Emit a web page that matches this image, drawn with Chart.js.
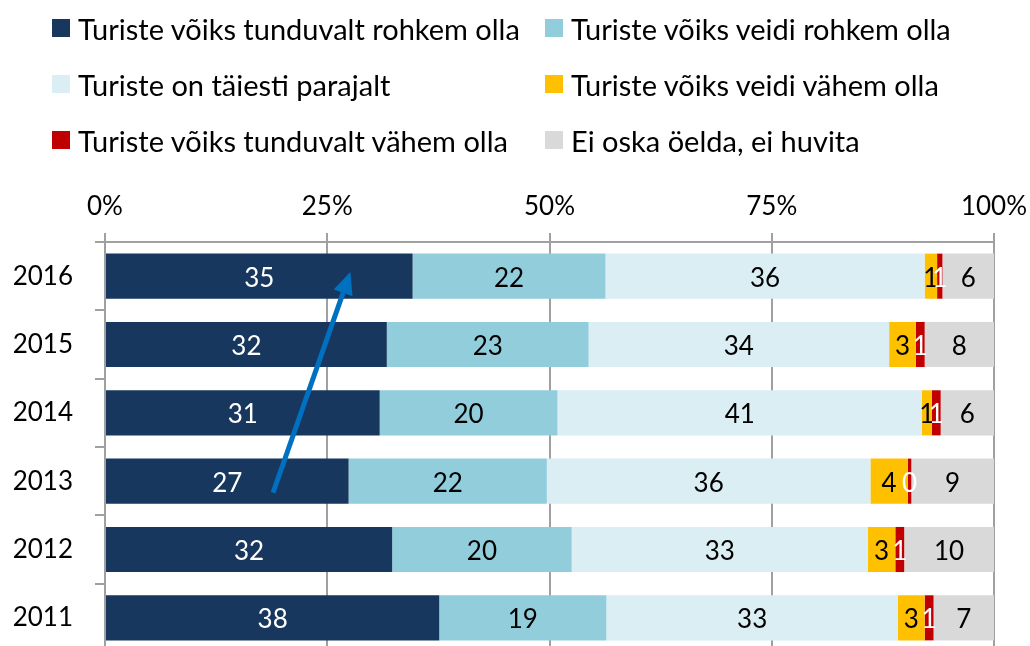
<!DOCTYPE html>
<html>
<head>
<meta charset="utf-8">
<script src="https://cdn.jsdelivr.net/npm/chart.js@4/dist/chart.umd.min.js"></script>
<style>
  html, body { margin: 0; padding: 0; background: #fff; overflow: hidden; }
  #wrap { position: relative; width: 1030px; height: 646px; overflow: hidden; }
  #chart { position: absolute; left: 0; top: 0; }
  #legend {
    position: absolute; left: 52px; top: 9px;
    display: grid; grid-template-columns: 493px 440px; grid-auto-rows: 56px;
    font-family: Lato, sans-serif; font-size: 29px; color: #000;
  }
  .item { display: flex; align-items: center; height: 38px; white-space: nowrap; }
  .box { width: 18px; height: 18px; margin-right: 8px; flex: none; }
</style>
</head>
<body>
<div id="wrap">
  <canvas id="chart" width="1030" height="660"></canvas>
  <div id="legend"></div>
</div>
<script>
// Years, top to bottom
const years = ['2016', '2015', '2014', '2013', '2012', '2011'];

// Shares in % (labels show the rounded value)
const muchMore = [34.6, 31.7, 30.9, 27.4, 32.3, 37.6];
const bitMore = [21.7, 22.7, 20.0, 22.3, 20.2, 18.8];
const justRight = [35.9, 33.8, 41.0, 36.4, 33.3, 32.8];
const bitLess = [1.4, 3.0, 1.1, 4.2, 3.1, 3.0];
const muchLess = [0.6, 1.0, 1.0, 0.4, 1.0, 1.0];
const dontKnow = [5.8, 7.8, 6.0, 9.3, 10.1, 6.8];

const seriesNames = [
  'Turiste võiks tunduvalt rohkem olla',
  'Turiste võiks veidi rohkem olla',
  'Turiste on täiesti parajalt',
  'Turiste võiks veidi vähem olla',
  'Turiste võiks tunduvalt vähem olla',
  'Ei oska öelda, ei huvita'
];
const seriesColors = ['#17375E', '#92CDDC', '#DAEEF3', '#FFC000', '#C00000', '#D9D9D9'];
const labelColors = ['#fff', '#000', '#000', '#000', '#fff', '#000'];

const xTicks = [0, 25, 50, 75, 100];

// Trend arrow: [x in %, y as category index]
const arrowFrom = [18.9, 3.17];
const arrowTo = [27.6, -0.06];

const FONT = '26px Lato, sans-serif';
const GRID = '#a0a0a0';

// Legend in two columns
const legendEl = document.getElementById('legend');
seriesNames.forEach((name, i) => {
  const item = document.createElement('div');
  item.className = 'item';
  item.innerHTML = '<span class="box" style="background:' + seriesColors[i] + '"></span>' + name;
  legendEl.appendChild(item);
});

const allSeries = [muchMore, bitMore, justRight, bitLess, muchLess, dontKnow];

// Value labels in the middle of each segment
const barLabels = {
  id: 'barLabels',
  afterDatasetsDraw(chart) {
    const ctx = chart.ctx;
    ctx.save();
    ctx.font = FONT;
    ctx.textAlign = 'center';
    ctx.textBaseline = 'middle';
    chart.data.datasets.forEach((ds, i) => {
      const meta = chart.getDatasetMeta(i);
      meta.data.forEach((bar, j) => {
        const p = bar.getProps(['x', 'y', 'base'], true);
        ctx.fillStyle = labelColors[i];
        ctx.fillText(String(Math.round(ds.data[j])), (p.x + p.base) / 2, p.y + 2);
      });
    });
    ctx.restore();
  }
};

// Blue arrow drawn on top
const trendArrow = {
  id: 'trendArrow',
  afterDraw(chart) {
    const xs = chart.scales.x, ys = chart.scales.y;
    const x1 = xs.getPixelForValue(arrowFrom[0]), y1 = ys.getPixelForValue(arrowFrom[1]);
    const x2 = xs.getPixelForValue(arrowTo[0]), y2 = ys.getPixelForValue(arrowTo[1]);
    const ang = Math.atan2(y2 - y1, x2 - x1);
    const headLen = 22, headW = 10;
    const bx = x2 - headLen * Math.cos(ang), by = y2 - headLen * Math.sin(ang);
    const ctx = chart.ctx;
    ctx.save();
    ctx.strokeStyle = '#0070C0';
    ctx.fillStyle = '#0070C0';
    ctx.lineWidth = 5;
    ctx.beginPath();
    ctx.moveTo(x1, y1);
    ctx.lineTo(bx, by);
    ctx.stroke();
    ctx.beginPath();
    ctx.moveTo(x2, y2);
    ctx.lineTo(bx + headW * Math.sin(ang), by - headW * Math.cos(ang));
    ctx.lineTo(bx - headW * Math.sin(ang), by + headW * Math.cos(ang));
    ctx.closePath();
    ctx.fill();
    ctx.restore();
  }
};

new Chart(document.getElementById('chart').getContext('2d'), {
  type: 'bar',
  data: {
    labels: years,
    datasets: allSeries.map((data, i) => ({
      label: seriesNames[i],
      data: data,
      backgroundColor: seriesColors[i],
      borderWidth: 0,
      barPercentage: 0.66,
      categoryPercentage: 1
    }))
  },
  options: {
    indexAxis: 'y',
    responsive: false,
    animation: false,
    layout: { padding: { top: 170, right: 36, bottom: 8, left: 0 } },
    scales: {
      x: {
        position: 'top',
        stacked: true,
        min: 0,
        max: 100,
        afterBuildTicks: scale => { scale.ticks = xTicks.map(v => ({ value: v })); },
        afterFit: scale => {
          scale.height = 72;
          // labels may spill past the plot edges, as in the original
          scale.paddingLeft = 0;
          scale.paddingRight = 0;
        },
        ticks: {
          color: '#000',
          font: { family: 'Lato, sans-serif', size: 26 },
          padding: 11,
          callback: v => v + '%'
        },
        grid: { color: GRID, lineWidth: 2, tickLength: 9 },
        border: { display: true, color: GRID, width: 2 }
      },
      y: {
        stacked: true,
        afterFit: scale => {
          scale.width = 105;
          scale.paddingTop = 0;
          scale.paddingBottom = 0;
        },
        ticks: {
          color: '#000',
          font: { family: 'Lato, sans-serif', size: 26 },
          padding: 22
        },
        grid: { drawOnChartArea: false, color: GRID, lineWidth: 2, tickLength: 10 },
        border: { display: true, color: GRID, width: 2 }
      }
    },
    plugins: {
      legend: { display: false },
      tooltip: { enabled: false }
    }
  },
  plugins: [barLabels, trendArrow]
});
</script>
</body>
</html>
